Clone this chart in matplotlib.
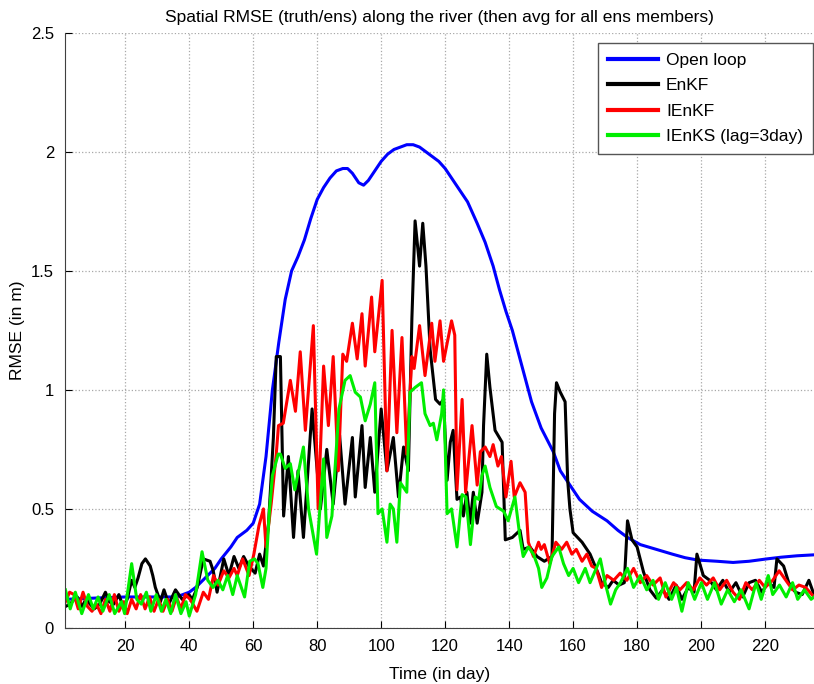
import matplotlib.pyplot as plt

# --- data ---
ol_days = [1.2, 10, 20, 30, 36, 38, 40, 42, 45, 48, 50, 53, 55, 58, 60, 62, 64, 66, 68, 70,
           72, 74, 76, 78, 80, 82, 84, 86, 88, 89.5, 91, 93, 94.5, 96, 98, 100, 102, 104, 106,
           108, 110, 112, 114, 116, 118, 120, 122, 124, 127, 130, 132.5, 135, 137, 139, 141,
           143, 145, 147, 150, 153.8, 156, 159, 162, 166, 170.6, 174, 177, 181, 186, 191, 195,
           199, 205, 210, 215, 220.6, 225, 230, 235.3]
ol_rmse = [0.12, 0.125, 0.13, 0.13, 0.13, 0.14, 0.15, 0.17, 0.21, 0.25, 0.29, 0.34, 0.38, 0.41,
           0.44, 0.52, 0.72, 1.0, 1.2, 1.38, 1.5, 1.56, 1.63, 1.72, 1.80, 1.85, 1.89, 1.92, 1.93,
           1.93, 1.91, 1.87, 1.86, 1.88, 1.92, 1.96, 1.99, 2.01, 2.02, 2.03, 2.03, 2.02, 2.0,
           1.98, 1.96, 1.93, 1.89, 1.85, 1.79, 1.70, 1.62, 1.52, 1.42, 1.33, 1.25, 1.15, 1.05,
           0.95, 0.84, 0.74, 0.66, 0.60, 0.54, 0.49, 0.45, 0.41, 0.38, 0.35, 0.33, 0.31, 0.295,
           0.285, 0.28, 0.275, 0.28, 0.29, 0.297, 0.303, 0.307]

enkf_days = [1.3, 2.8, 4.0, 5.0, 6.5, 7.7, 9.0, 10.3, 12.0, 13.8, 15.0, 16.4, 18.0, 19.3, 20.6,
             22.0, 23.0, 24.0, 25.2, 26.3, 27.8, 28.6, 29.4, 31.0, 32.1, 33.6, 35.7, 37.8, 39.9,
             41.0, 42.5, 44.4, 46.5, 47.5, 48.7, 50.8, 52.4, 54.0, 55.5, 57.0, 58.6, 60.6, 62.0,
             63.2, 64.8, 66.3, 67.2, 68.5, 69.5, 71.0, 72.6, 74.0, 75.7, 78.4, 81.0, 83.0, 85.0,
             87.0, 88.7, 91.0, 91.9, 94.0, 95.0, 96.6, 98.0, 100.0, 101.8, 103.8, 105.4, 107.0,
             108.5, 109.6, 110.6, 112.0, 113.0, 114.0, 115.3, 117.0, 118.4, 119.5, 120.6, 121.6,
             122.5, 123.7, 124.8, 125.7, 126.8, 127.8, 128.8, 130.0, 131.5, 132.0, 133.0, 134.0,
             135.6, 137.8, 138.8, 141.0, 143.4, 144.4, 146.5, 148.7, 151.0, 153.4, 154.2, 154.8,
             156.0, 157.5, 158.3, 159.0, 160.0, 162.8, 165.3, 167.8, 168.9, 171.0, 172.5, 174.4,
             176.0, 177.0, 178.4, 180.0, 182.0, 184.0, 186.0, 188.0, 190.0, 192.2, 194.0, 196.0,
             197.8, 198.7, 200.7, 202.7, 204.8, 206.8, 208.8, 210.9, 213.0, 215.0, 217.0, 219.0,
             221.0, 222.8, 223.7, 225.8, 227.4, 229.5, 231.6, 233.7, 235.3]
enkf_rmse = [0.09, 0.10, 0.12, 0.13, 0.09, 0.12, 0.10, 0.08, 0.10, 0.15, 0.11, 0.10, 0.14, 0.09,
             0.12, 0.20, 0.17, 0.21, 0.27, 0.29, 0.26, 0.22, 0.17, 0.11, 0.16, 0.10, 0.16, 0.12,
             0.14, 0.12, 0.17, 0.29, 0.28, 0.24, 0.15, 0.29, 0.22, 0.30, 0.25, 0.30, 0.26, 0.23,
             0.31, 0.26, 0.44, 0.80, 1.14, 1.14, 0.47, 0.72, 0.38, 0.66, 0.38, 0.92, 0.50, 0.75,
             0.52, 0.81, 0.52, 0.80, 0.55, 0.85, 0.59, 0.80, 0.57, 0.92, 0.66, 0.80, 0.55, 0.76,
             0.66, 1.30, 1.71, 1.52, 1.70, 1.52, 1.17, 0.96, 0.94, 0.96, 0.62, 0.78, 0.83, 0.54,
             0.55, 0.47, 0.57, 0.44, 0.57, 0.44, 0.57, 0.85, 1.15, 1.01, 0.83, 0.78, 0.37, 0.38,
             0.41, 0.33, 0.34, 0.30, 0.28, 0.30, 0.90, 1.03, 0.99, 0.95, 0.62, 0.50, 0.40, 0.36,
             0.31, 0.23, 0.19, 0.17, 0.20, 0.18, 0.19, 0.45, 0.37, 0.34, 0.235, 0.16, 0.125, 0.16,
             0.12, 0.18, 0.12, 0.17, 0.15, 0.31, 0.22, 0.20, 0.16, 0.20, 0.15, 0.19, 0.13, 0.19,
             0.20, 0.15, 0.19, 0.17, 0.29, 0.26, 0.19, 0.15, 0.14, 0.20, 0.14]

ienkf_days = [1.3, 2.6, 4.0, 5.3, 6.8, 8.2, 9.6, 11.0, 12.4, 13.8, 15.2, 16.6, 18.0, 19.5, 20.6,
              22.0, 23.4, 24.8, 26.2, 27.6, 29.0, 30.4, 31.8, 33.2, 34.6, 36.0, 37.4, 38.8, 40.3,
              42.4, 44.4, 46.0, 47.6, 49.0, 50.8, 52.4, 54.0, 55.0, 56.7, 58.7, 60.2, 61.8, 63.2,
              64.0, 65.6, 67.2, 67.9, 69.4, 71.6, 73.2, 74.7, 76.3, 78.8, 80.3, 82.0, 83.5, 85.0,
              86.6, 88.0, 89.2, 91.0, 92.5, 94.0, 95.0, 97.0, 98.0, 100.3, 101.8, 103.4, 104.9,
              106.5, 108.0, 109.6, 110.3, 112.0, 113.7, 115.8, 116.8, 118.4, 119.5, 122.0, 123.0,
              123.7, 125.3, 126.4, 128.4, 130.0, 131.0, 132.5, 134.0, 135.0, 136.5, 137.6, 139.0,
              140.6, 141.6, 143.4, 145.0, 146.0, 147.6, 149.2, 150.0, 151.0, 152.7, 154.6, 156.4,
              158.0, 159.6, 161.0, 162.8, 164.3, 165.8, 167.2, 168.9, 170.6, 172.7, 174.7, 176.8,
              178.9, 181.0, 183.0, 185.0, 187.2, 189.0, 191.4, 193.4, 195.5, 197.6, 199.6, 201.7,
              203.8, 205.8, 208.0, 210.0, 212.0, 214.0, 216.0, 218.2, 220.0, 222.4, 224.4, 226.5,
              228.6, 230.6, 232.7, 235.3]
ienkf_rmse = [0.11, 0.15, 0.14, 0.08, 0.15, 0.09, 0.07, 0.10, 0.06, 0.12, 0.07, 0.14, 0.07, 0.11,
              0.06, 0.12, 0.08, 0.14, 0.08, 0.13, 0.07, 0.12, 0.07, 0.12, 0.07, 0.13, 0.08, 0.14,
              0.12, 0.07, 0.15, 0.12, 0.22, 0.18, 0.24, 0.21, 0.25, 0.22, 0.29, 0.22, 0.31, 0.43,
              0.50, 0.34, 0.52, 0.73, 0.85, 0.86, 1.04, 0.91, 1.16, 0.83, 1.27, 0.50, 1.10, 0.85,
              1.14, 0.66, 1.15, 1.12, 1.28, 1.13, 1.32, 1.10, 1.39, 1.16, 1.46, 0.66, 1.25, 0.82,
              1.22, 0.73, 1.14, 1.09, 1.27, 1.06, 1.28, 1.12, 1.29, 1.12, 1.29, 1.23, 0.58, 0.96,
              0.57, 0.85, 0.60, 0.74, 0.76, 0.72, 0.77, 0.68, 0.72, 0.55, 0.70, 0.55, 0.61, 0.57,
              0.36, 0.30, 0.36, 0.33, 0.35, 0.27, 0.36, 0.33, 0.36, 0.31, 0.33, 0.28, 0.31, 0.26,
              0.25, 0.17, 0.22, 0.20, 0.23, 0.20, 0.25, 0.19, 0.22, 0.18, 0.21, 0.13, 0.19, 0.16,
              0.19, 0.16, 0.21, 0.18, 0.21, 0.16, 0.20, 0.15, 0.12, 0.19, 0.16, 0.20, 0.17, 0.20,
              0.24, 0.20, 0.16, 0.18, 0.17, 0.13]

ienks_days = [1.3, 2.8, 4.4, 6.4, 8.5, 10.0, 11.5, 13.0, 15.0, 16.7, 18.8, 19.8, 22.0, 23.6, 25.0,
              26.6, 28.0, 29.7, 31.3, 32.7, 34.2, 35.7, 37.4, 39.0, 40.0, 42.0, 44.0, 45.8, 47.4,
              49.0, 50.5, 52.0, 53.6, 55.0, 57.3, 58.9, 60.4, 61.5, 63.0, 64.0, 65.0, 66.0, 67.8,
              68.5, 70.0, 71.6, 73.0, 75.7, 77.3, 79.8, 82.0, 83.0, 84.6, 86.8, 88.7, 90.3, 91.9,
              93.5, 95.0, 96.6, 98.0, 99.0, 100.3, 101.8, 102.8, 103.8, 104.9, 106.0, 108.0, 109.0,
              110.6, 112.6, 113.7, 115.3, 116.3, 117.4, 118.9, 119.5, 120.6, 122.0, 123.7, 125.3,
              126.5, 127.9, 129.4, 130.5, 131.5, 132.5, 134.0, 136.0, 138.3, 139.7, 141.8, 143.4,
              144.4, 146.0, 147.6, 149.2, 150.2, 151.8, 153.4, 155.5, 157.0, 158.6, 160.0, 161.7,
              163.8, 165.3, 166.9, 168.5, 170.0, 171.7, 173.3, 174.8, 177.0, 178.9, 181.0, 183.0,
              185.0, 186.7, 188.8, 190.8, 192.3, 194.0, 196.0, 198.0, 200.1, 202.0, 204.2, 206.3,
              208.3, 210.4, 212.5, 215.0, 217.2, 218.8, 221.0, 222.4, 224.5, 226.6, 228.6, 230.2,
              232.3, 234.4, 235.3]
ienks_rmse = [0.16, 0.08, 0.15, 0.06, 0.14, 0.08, 0.13, 0.07, 0.14, 0.06, 0.11, 0.06, 0.27, 0.12,
              0.10, 0.15, 0.07, 0.14, 0.07, 0.12, 0.06, 0.14, 0.06, 0.11, 0.05, 0.14, 0.32, 0.20,
              0.17, 0.20, 0.16, 0.22, 0.14, 0.22, 0.13, 0.28, 0.29, 0.27, 0.17, 0.25, 0.48, 0.64,
              0.73, 0.73, 0.67, 0.69, 0.58, 0.76, 0.50, 0.31, 0.71, 0.38, 0.47, 0.92, 1.04, 1.06,
              0.99, 0.97, 0.87, 0.94, 1.03, 0.48, 0.50, 0.36, 0.52, 0.50, 0.36, 0.61, 0.57, 0.99,
              1.01, 1.03, 0.90, 0.85, 0.86, 0.79, 0.90, 1.00, 0.48, 0.50, 0.34, 0.56, 0.55, 0.35,
              0.55, 0.54, 0.64, 0.68, 0.59, 0.51, 0.49, 0.45, 0.55, 0.38, 0.30, 0.34, 0.31, 0.25,
              0.17, 0.21, 0.30, 0.34, 0.27, 0.22, 0.25, 0.19, 0.25, 0.19, 0.24, 0.29, 0.19, 0.10,
              0.16, 0.19, 0.25, 0.17, 0.22, 0.16, 0.20, 0.12, 0.19, 0.12, 0.17, 0.07, 0.19, 0.12,
              0.19, 0.12, 0.19, 0.10, 0.16, 0.11, 0.16, 0.08, 0.19, 0.12, 0.22, 0.14, 0.18, 0.13,
              0.19, 0.12, 0.16, 0.12, 0.13]

x_ticks = [20, 40, 60, 80, 100, 120, 140, 160, 180, 200, 220]
y_ticks = [0, 0.5, 1, 1.5, 2, 2.5]
y_labels = ["0", "0.5", "1", "1.5", "2", "2.5"]

# --- style ---
plt.rcParams['font.family'] = ['Liberation Sans', 'DejaVu Sans']
plt.rcParams['font.size'] = 12

fig = plt.figure(figsize=(8.14, 6.84), dpi=100)
ax = fig.add_axes([0.080, 0.082, 0.920, 0.870])

lw = 2.2
ax.plot(ol_days, ol_rmse, color='#0000ff', lw=lw, label='Open loop')
ax.plot(enkf_days, enkf_rmse, color='black', lw=lw, label='EnKF')
ax.plot(ienkf_days, ienkf_rmse, color='#ff0000', lw=lw, label='IEnKF')
ax.plot(ienks_days, ienks_rmse, color='#00ee00', lw=lw, label='IEnKS (lag=3day)')

ax.set_xlim(1.2, 235.3)
ax.set_ylim(0, 2.5)
ax.set_xticks(x_ticks)
ax.set_yticks(y_ticks)
ax.set_yticklabels(y_labels)
ax.tick_params(direction='in', length=5, labelsize=12, pad=8)
ax.grid(True, linestyle=':', color='#a8a8a8', linewidth=0.9)
ax.spines['top'].set_visible(False)
ax.spines['right'].set_visible(False)
ax.spines['left'].set_color('#404040')
ax.spines['bottom'].set_color('#404040')

ax.set_xlabel('Time (in day)', fontsize=12.5, labelpad=9)
ax.set_ylabel('RMSE (in m)', fontsize=12.5, labelpad=4)
ax.set_title('Spatial RMSE (truth/ens) along the river (then avg for all ens members)',
             fontsize=12.5, pad=8)

leg = ax.legend(loc='upper right', bbox_to_anchor=(0.998, 0.983), fontsize=12.5,
                handlelength=2.9, handletextpad=0.45, fancybox=False, framealpha=1,
                borderpad=0.55, labelspacing=0.6, borderaxespad=0)
leg.get_frame().set_edgecolor('#555555')
leg.get_frame().set_linewidth(1.0)
for line in leg.get_lines():
    line.set_linewidth(3)

fig.savefig('out.png', dpi=100)
